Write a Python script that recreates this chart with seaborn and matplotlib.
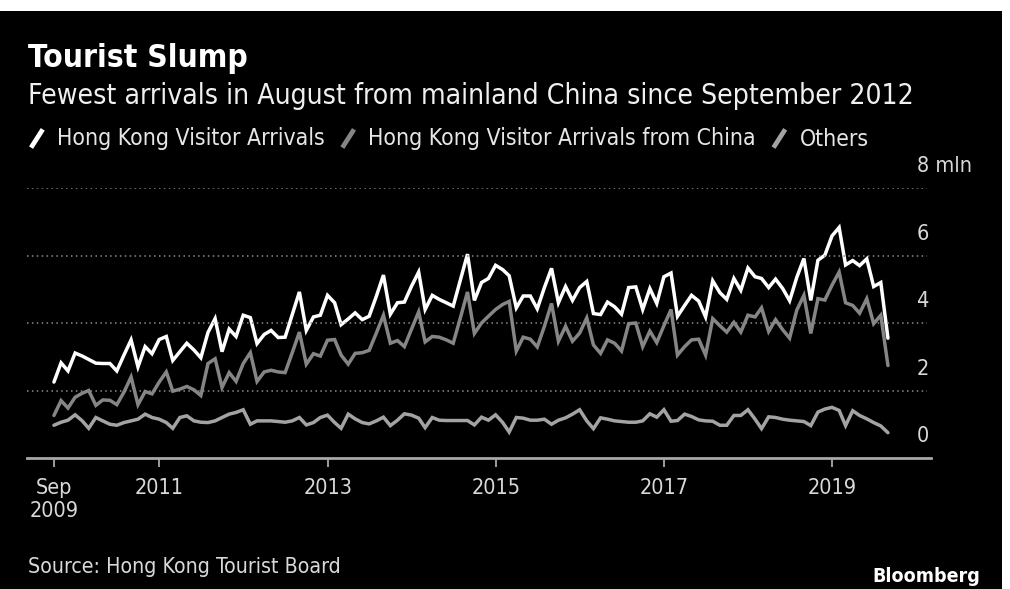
import matplotlib
matplotlib.use("Agg")
import matplotlib.pyplot as plt
import seaborn as sns
import numpy as np
import pandas as pd
from matplotlib.lines import Line2D
from matplotlib.legend_handler import HandlerBase
from matplotlib.patches import Rectangle

# monthly arrivals, mln, Sep 2009 .. Aug 2019
months = pd.date_range("2009-09-01", periods=120, freq="MS") + pd.offsets.MonthEnd(0)

total = [2.25, 2.82, 2.58, 3.11, 3.02, 2.92, 2.81, 2.80, 2.80, 2.58, 3.05, 3.50,
         2.70, 3.30, 3.09, 3.51, 3.60, 2.89, 3.15, 3.40, 3.20, 2.97, 3.72, 4.13,
         3.15, 3.82, 3.60, 4.23, 4.16, 3.39, 3.66, 3.78, 3.57, 3.58, 4.25, 4.92,
         3.78, 4.18, 4.23, 4.82, 4.60, 3.95, 4.12, 4.30, 4.10, 4.20, 4.79, 5.42,
         4.26, 4.60, 4.62, 5.09, 5.51, 4.40, 4.82, 4.70, 4.60, 4.50, 5.27, 6.04,
         4.67, 5.20, 5.32, 5.71, 5.58, 5.40, 4.45, 4.80, 4.80, 4.42, 5.05, 5.62,
         4.60, 5.08, 4.67, 5.05, 5.23, 4.28, 4.25, 4.62, 4.48, 4.26, 5.05, 5.07,
         4.40, 5.02, 4.58, 5.37, 5.48, 4.20, 4.52, 4.82, 4.65, 4.18, 5.25, 4.90,
         4.70, 5.32, 4.97, 5.63, 5.37, 5.32, 5.05, 5.30, 5.02, 4.66, 5.35, 5.91,
         4.67, 5.86, 6.01, 6.58, 6.83, 5.72, 5.85, 5.70, 5.90, 5.08, 5.20, 3.55]

china = [1.26, 1.70, 1.48, 1.80, 1.92, 2.00, 1.56, 1.72, 1.71, 1.58, 1.95, 2.40,
         1.58, 1.97, 1.90, 2.25, 2.55, 1.98, 2.04, 2.12, 2.02, 1.85, 2.80, 2.94,
         2.09, 2.53, 2.27, 2.80, 3.12, 2.27, 2.55, 2.60, 2.55, 2.53, 3.12, 3.73,
         2.78, 3.09, 3.02, 3.49, 3.51, 3.05, 2.78, 3.10, 3.12, 3.19, 3.70, 4.23,
         3.40, 3.48, 3.30, 3.82, 4.33, 3.44, 3.60, 3.58, 3.50, 3.40, 4.15, 4.92,
         3.69, 4.00, 4.20, 4.40, 4.55, 4.64, 3.17, 3.58, 3.52, 3.29, 3.90, 4.58,
         3.46, 3.90, 3.46, 3.70, 4.15, 3.35, 3.10, 3.50, 3.40, 3.17, 3.98, 4.00,
         3.30, 3.76, 3.42, 3.92, 4.40, 3.05, 3.30, 3.50, 3.52, 3.05, 4.13, 3.92,
         3.73, 4.02, 3.73, 4.23, 4.18, 4.45, 3.75, 4.10, 3.80, 3.55, 4.38, 4.82,
         3.69, 4.72, 4.68, 5.12, 5.51, 4.60, 4.52, 4.29, 4.72, 3.98, 4.23, 2.74]

others = [0.97, 1.06, 1.12, 1.28, 1.10, 0.88, 1.20, 1.10, 1.00, 0.97, 1.05, 1.10,
          1.15, 1.30, 1.20, 1.15, 1.05, 0.88, 1.20, 1.25, 1.10, 1.06, 1.05, 1.10,
          1.20, 1.30, 1.35, 1.43, 1.00, 1.10, 1.10, 1.10, 1.08, 1.06, 1.10, 1.20,
          0.98, 1.05, 1.20, 1.27, 1.05, 0.88, 1.30, 1.16, 1.05, 1.01, 1.10, 1.21,
          0.96, 1.12, 1.31, 1.27, 1.18, 0.90, 1.20, 1.12, 1.11, 1.11, 1.11, 1.11,
          0.98, 1.21, 1.12, 1.28, 1.05, 0.77, 1.20, 1.18, 1.12, 1.12, 1.15, 1.00,
          1.12, 1.19, 1.30, 1.43, 1.10, 0.87, 1.19, 1.15, 1.10, 1.08, 1.06, 1.06,
          1.10, 1.31, 1.21, 1.43, 1.09, 1.11, 1.30, 1.23, 1.13, 1.10, 1.09, 0.97,
          0.97, 1.26, 1.26, 1.43, 1.15, 0.87, 1.22, 1.20, 1.15, 1.12, 1.10, 1.08,
          0.96, 1.36, 1.45, 1.50, 1.41, 0.96, 1.40, 1.26, 1.16, 1.05, 0.95, 0.75]

series_names = ["Hong Kong Visitor Arrivals", "Hong Kong Visitor Arrivals from China", "Others"]
series_colors = ["#ffffff", "#858585", "#a3a3a3"]
y_ticks = [0, 2, 4, 6, 8]
x_tick_dates = [pd.Timestamp("2009-09-30")] + [pd.Timestamp(f"{y}-01-01") for y in range(2011, 2020, 2)]
x_tick_labels = ["Sep\n2009", "2011", "2013", "2015", "2017", "2019"]

df = pd.DataFrame({"date": months, series_names[0]: total,
                   series_names[1]: china, series_names[2]: others})

sns.set_style("dark")
plt.rcParams["font.family"] = ["DejaVu Sans"]
plt.rcParams["font.stretch"] = "condensed"

fig = plt.figure(figsize=(10.1, 5.89), dpi=100, facecolor="black")
ax = fig.add_axes([27 / 1010, 1 - 458 / 589, 904 / 1010, 270 / 589])
ax.set_facecolor("black")

# draw others first so the total line sits on top
for name, col in zip(series_names[::-1], series_colors[::-1]):
    sns.lineplot(data=df, x="date", y=name, ax=ax, color=col, linewidth=2.5,
                 solid_joinstyle="miter", legend=False)

ax.set_ylim(0, 8)
ax.set_xlim(pd.Timestamp("2009-06-05"), pd.Timestamp("2020-03-05"))
ax.set_xlabel("")
ax.set_ylabel("")

for v in y_ticks[1:]:
    ax.axhline(v, color="#8c8c8c", linestyle=(0, (1, 2.2)), linewidth=1.1, xmax=0.996)

for s in ["top", "right", "left"]:
    ax.spines[s].set_visible(False)
ax.spines["bottom"].set_color("#a8a8a8")
ax.spines["bottom"].set_linewidth(2.0)

ax.set_yticks([])
ytr = ax.get_yaxis_transform()
for v in y_ticks:
    lab = "8 mln" if v == 8 else str(v)
    ax.text(0.984, v + 0.64, lab, transform=ytr, ha="left", va="center",
            color="#d9d9d9", fontsize=15.5, clip_on=False)

ax.set_xticks(x_tick_dates)
ax.set_xticklabels(x_tick_labels, linespacing=1.2)
ax.tick_params(axis="x", direction="out", length=6.5, width=1.3, color="#a8a8a8",
               labelcolor="#d9d9d9", labelsize=15.5, pad=8, bottom=True)
ax.grid(False)

# header
fig.text(28 / 1010, 1 - 67 / 589, "Tourist Slump", color="white", fontsize=22.8,
         fontweight="bold", va="baseline", ha="left")
fig.text(28 / 1010, 1 - 104 / 589,
         "Fewest arrivals in August from mainland China since September 2012",
         color="#f0f0f0", fontsize=20.3, va="baseline", ha="left")


class SlashHandler(HandlerBase):
    def create_artists(self, legend, orig_handle, xdescent, ydescent, width, height, fontsize, trans):
        x0 = -xdescent + width * 0.2
        x1 = -xdescent + width * 0.8
        ln = Line2D([x0, x1], [-ydescent - height * 0.05, -ydescent + height * 0.95],
                    color=orig_handle.get_color(), linewidth=3.4, solid_capstyle="butt",
                    transform=trans)
        return [ln]


handles = [Line2D([], [], color=c) for c in series_colors]
leg = fig.legend(handles, series_names, loc="center left", ncol=3,
                 bbox_to_anchor=(18 / 1010, 1 - 139 / 589), frameon=False,
                 handler_map={Line2D: SlashHandler()}, handlelength=0.85, handleheight=0.85,
                 handletextpad=0.45, columnspacing=0.6, fontsize=16.5, borderaxespad=0)
for t in leg.get_texts():
    t.set_color("#e6e6e6")

fig.text(28 / 1010, 1 - 567 / 589, "Source: Hong Kong Tourist Board", color="#d9d9d9",
         fontsize=15.3, va="center", ha="left")
fig.text(980 / 1010, 1 - 577 / 589, "Bloomberg", color="white", fontsize=14,
         fontweight="bold", va="center", ha="right")

# screenshot border on top and right
fig.patches.append(Rectangle((0, 1 - 11 / 589), 1, 11 / 589, transform=fig.transFigure,
                             facecolor="white", edgecolor="none", zorder=10))
fig.patches.append(Rectangle((1002 / 1010, 0), 8 / 1010, 1, transform=fig.transFigure,
                             facecolor="white", edgecolor="none", zorder=10))

fig.savefig("out.png", dpi=100, facecolor="black")
